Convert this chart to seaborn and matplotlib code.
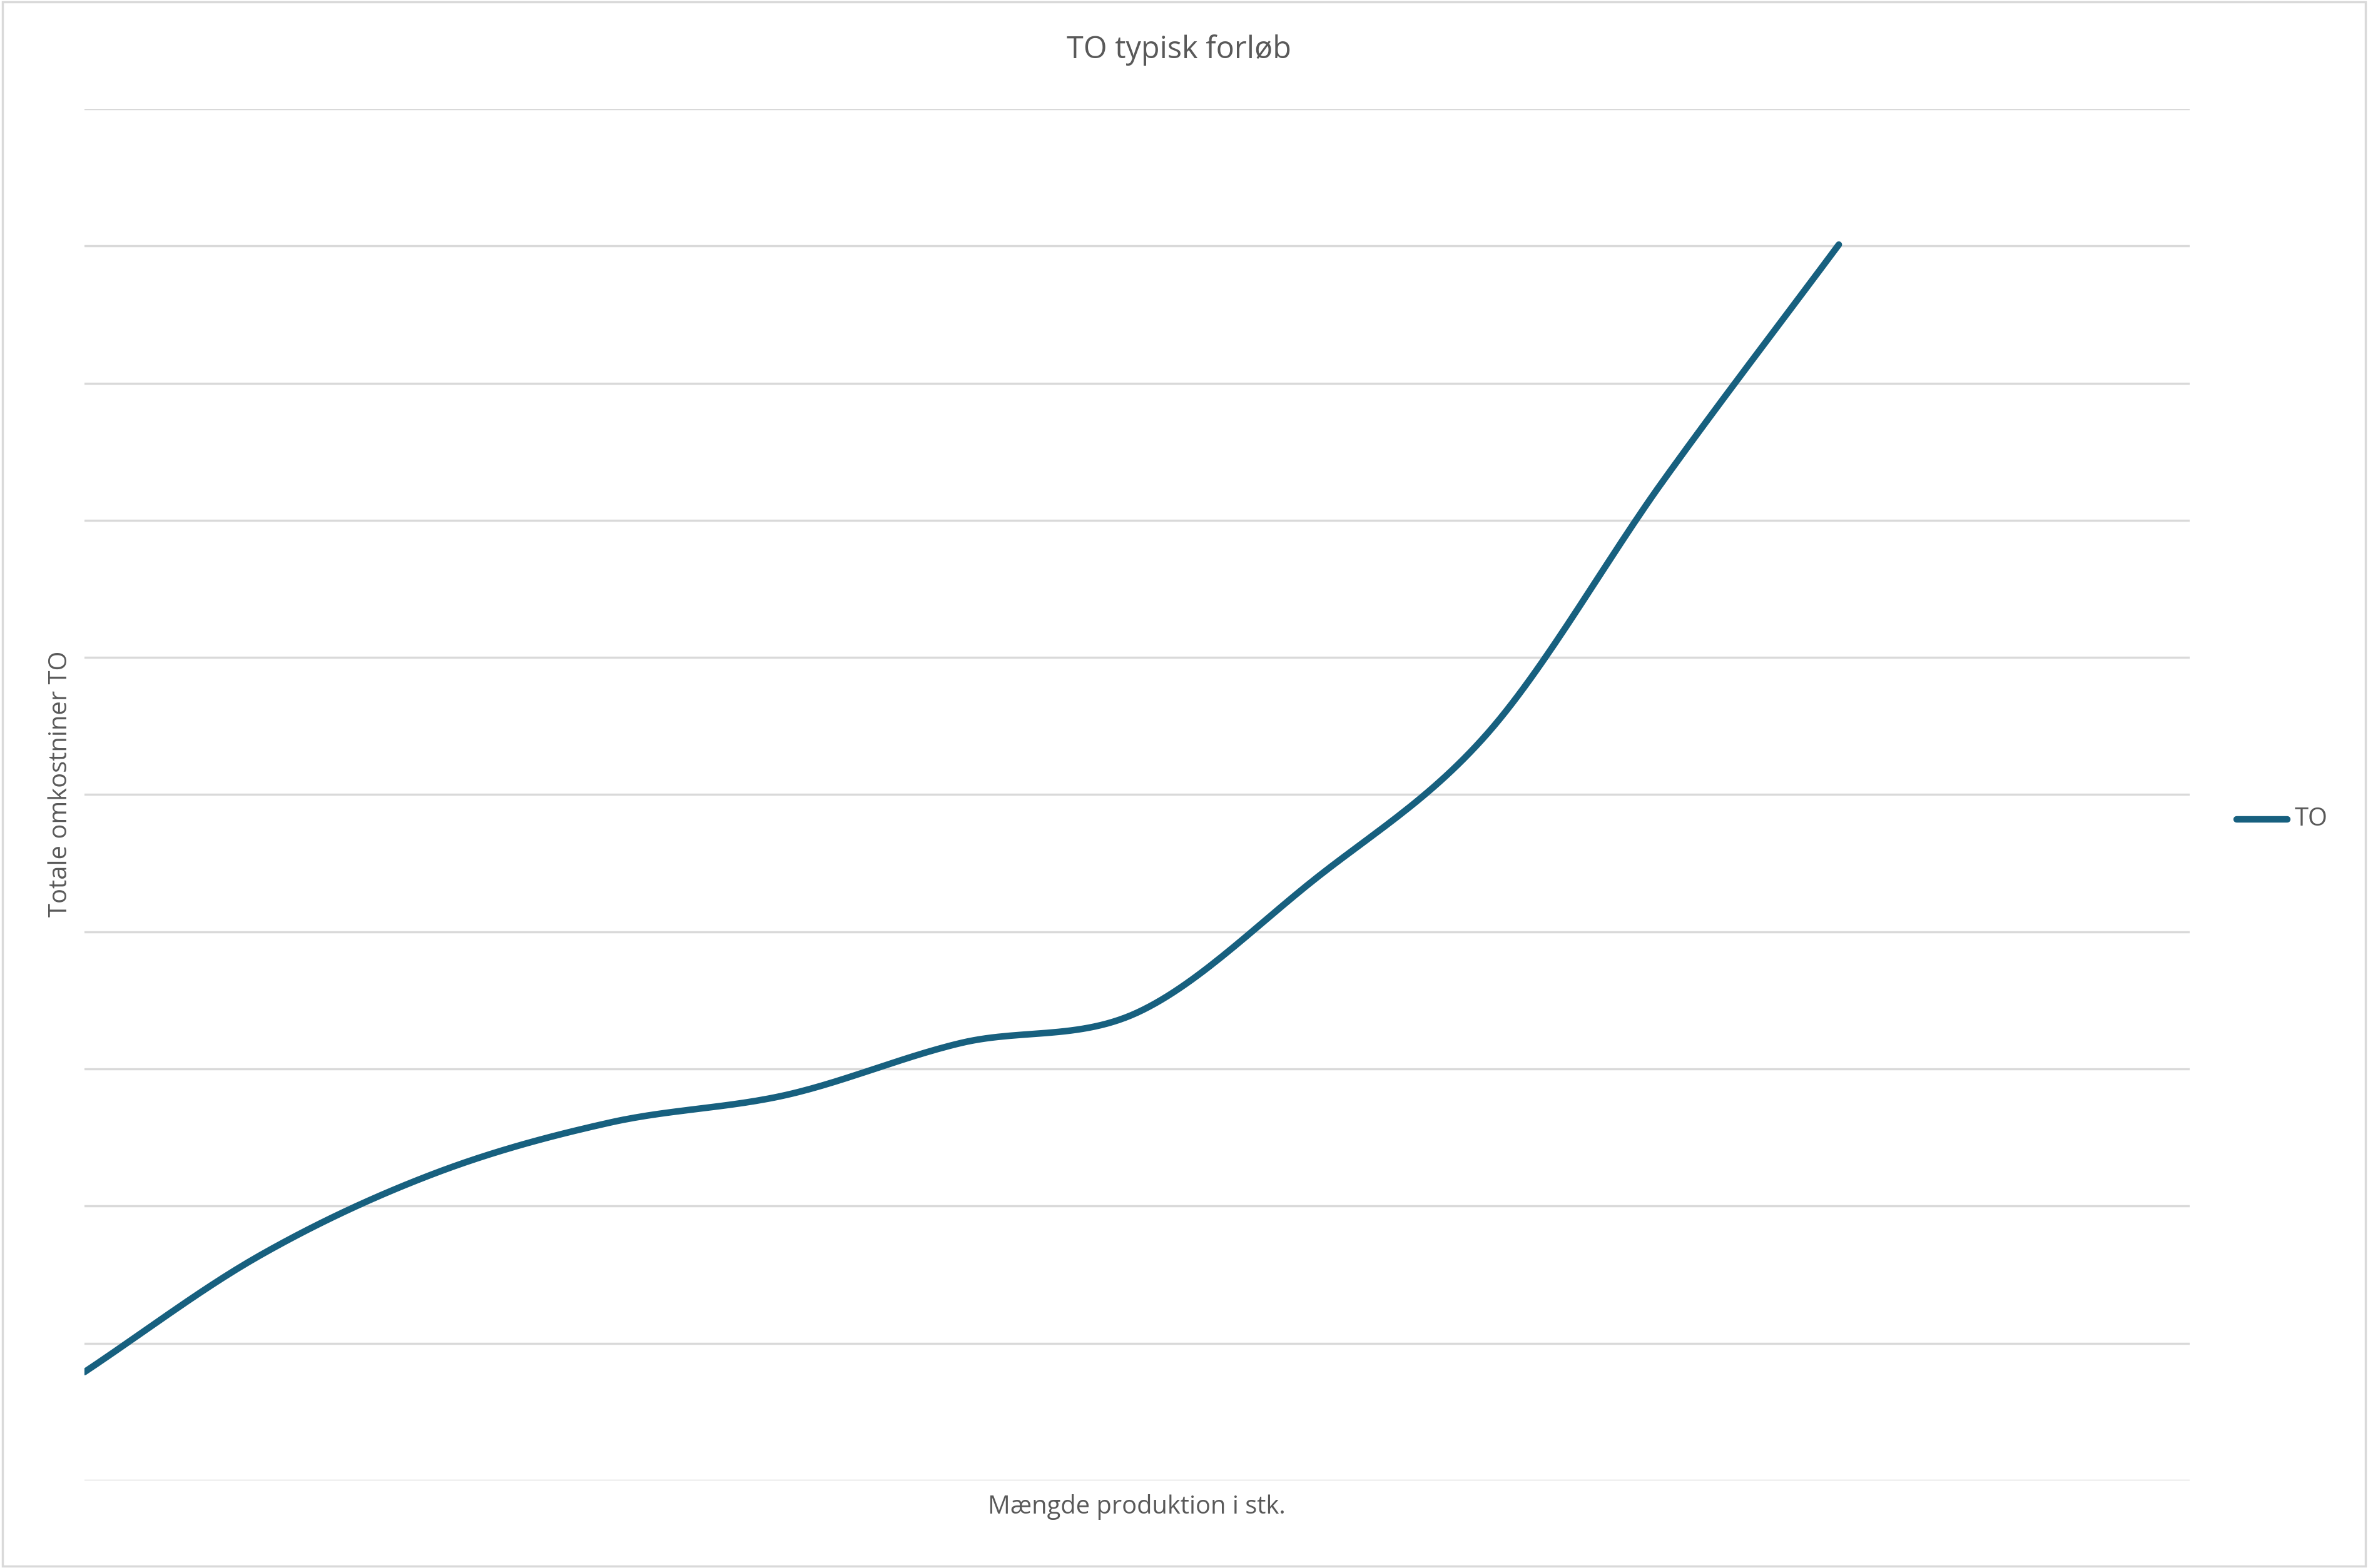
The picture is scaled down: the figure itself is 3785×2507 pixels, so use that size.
import matplotlib.pyplot as plt
import seaborn as sns
import pandas as pd
import numpy as np

# values (no axis labels in the original)
maengde = [0, 1, 2, 3, 4, 5, 6, 7, 8, 9, 10]
to_vals = [0.79, 1.64, 2.24, 2.61, 2.81, 3.19, 3.41, 4.37, 5.45, 7.29, 9.01]

sns.set_style("white")
plt.rcParams['font.family'] = ['Open Sans', 'DejaVu Sans']
grey = '#595959'
line_col = '#17607F'


def smooth(x, y, n=30):
    # Catmull-Rom style smoothing like Excel's "smoothed line"
    x = np.asarray(x, float); y = np.asarray(y, float)
    px = np.concatenate([[2 * x[0] - x[1]], x, [2 * x[-1] - x[-2]]])
    py = np.concatenate([[2 * y[0] - y[1]], y, [2 * y[-1] - y[-2]]])
    xs, ys = [], []
    t = np.linspace(0, 1, n)
    for i in range(1, len(px) - 2):
        p0, p1, p2, p3 = [np.array([px[j], py[j]]) for j in range(i - 1, i + 3)]
        c1 = p1 + (p2 - p0) / 6
        c2 = p2 - (p3 - p1) / 6
        pts = ((1 - t) ** 3)[:, None] * p1 + (3 * (1 - t) ** 2 * t)[:, None] * c1 \
            + (3 * (1 - t) * t ** 2)[:, None] * c2 + (t ** 3)[:, None] * p2
        xs.extend(pts[:, 0]); ys.extend(pts[:, 1])
    return xs, ys


sx, sy = smooth(maengde, to_vals)
df = pd.DataFrame({'x': sx, 'y': sy, 'serie': 'TO'})

fig = plt.figure(figsize=(15.14, 10.028), dpi=250)
ax = fig.add_axes([0.0357, 0.0559, 0.8890, 0.8747])
sns.lineplot(data=df, x='x', y='y', hue='serie', palette=[line_col], sort=False,
             linewidth=3, solid_capstyle='round', ax=ax, legend=False)

ax.set_xlim(0, 12)
ax.set_ylim(0, 10)
ax.set_yticks(range(0, 11))
ax.set_xticks([])
ax.set_yticklabels([])
ax.tick_params(length=0)
ax.grid(axis='y', color='#D9D9D9', linewidth=1)
for s in ax.spines.values():
    s.set_visible(False)
ax.set_xlabel('')
ax.set_ylabel('')

fig.text(0.498, 0.968, 'TO typisk forløb', ha='center', va='center', fontsize=14, color=grey)
fig.text(0.48, 0.039, 'Mængde produktion i stk.', ha='center', va='center', fontsize=11.5, color=grey)
fig.text(0.0255, 0.50, 'Totale omkostniner TO', ha='center', va='center', rotation=90,
         fontsize=11.5, color=grey)

fig.add_artist(plt.Line2D([0.9445, 0.966], [0.4775, 0.4775], color=line_col, linewidth=3,
                          solid_capstyle='round'))
fig.text(0.969, 0.4775, 'TO', ha='left', va='center', fontsize=11.5, color=grey)

fig.add_artist(plt.Rectangle((0.001, 0.001), 0.998, 0.998, fill=False, edgecolor='#D9D9D9',
                             linewidth=1, transform=fig.transFigure))

fig.savefig('out.png', dpi=250)
